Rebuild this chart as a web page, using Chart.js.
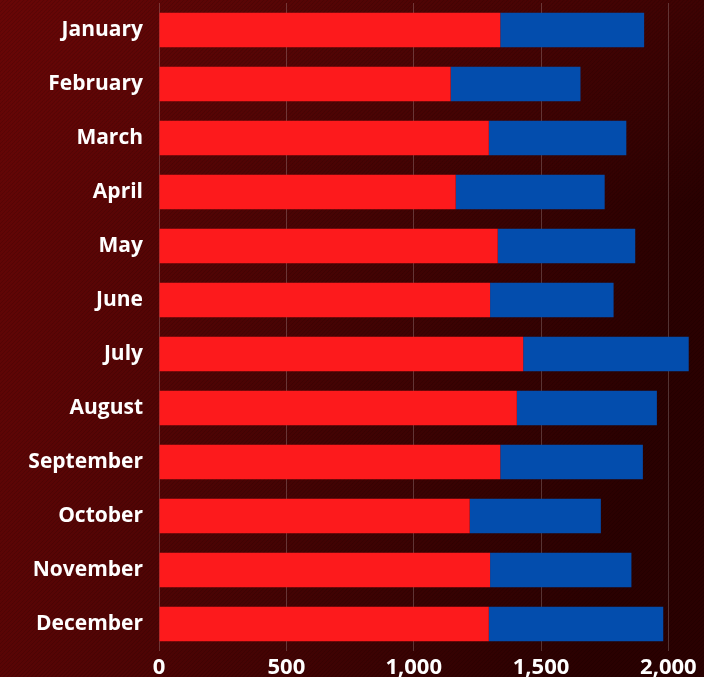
<!DOCTYPE html>
<html>
<head>
    <meta charset="UTF-8">
    <title>Monthly bars</title>
    <script src="https://cdn.jsdelivr.net/npm/chart.js@4.4.0/dist/chart.umd.min.js"></script>
</head>
<style>
    html, body { margin: 0; padding: 0; background: #3a0303; }
    #wrap { width: 704px; height: 677px; position: relative; }
</style>
<body>
<div id="wrap"><canvas id="wykres"></canvas></div>

<script>
    var months = ['January', 'February', 'March', 'April', 'May', 'June',
                  'July', 'August', 'September', 'October', 'November', 'December'];
    var redValues = [1340, 1145, 1295, 1165, 1330, 1300, 1430, 1405, 1340, 1220, 1300, 1295];
    var blueValues = [565, 510, 540, 585, 540, 485, 650, 550, 560, 515, 555, 685];
    var xTicks = [0, 500, 1000, 1500, 2000];

    // dark red backdrop with a faint diagonal hatch
    var backdrop = {
        id: 'backdrop',
        beforeDraw: function (chart) {
            var c = chart.ctx, w = chart.width, h = chart.height;
            c.save();
            var g = c.createLinearGradient(0, 0, w, h * 0.25);
            g.addColorStop(0, '#660606');
            g.addColorStop(0.5, '#480404');
            g.addColorStop(1, '#2a0101');
            c.fillStyle = g;
            c.fillRect(0, 0, w, h);
            var g2 = c.createLinearGradient(0, 0, 0, h);
            g2.addColorStop(0, 'rgba(110,8,8,0.25)');
            g2.addColorStop(0.3, 'rgba(110,8,8,0)');
            c.fillStyle = g2;
            c.fillRect(0, 0, w, h);
            c.strokeStyle = 'rgba(0,0,0,0.13)';
            c.lineWidth = 1;
            for (var i = -h; i < w; i += 4) {
                c.beginPath();
                c.moveTo(i, h);
                c.lineTo(i + h, 0);
                c.stroke();
            }
            c.restore();
        }
    };

    new Chart(document.getElementById('wykres'), {
        type: 'bar',
        data: {
            labels: months,
            datasets: [{
                data: redValues,
                backgroundColor: '#fd1a1c',
                borderWidth: 0
            }, {
                data: blueValues,
                backgroundColor: '#034dad',
                borderWidth: 0
            }]
        },
        options: {
            indexAxis: 'y',
            responsive: true,
            maintainAspectRatio: false,
            animation: false,
            layout: { padding: { top: 3, right: 0, bottom: 0, left: 0 } },
            plugins: { legend: { display: false }, tooltip: { enabled: false } },
            datasets: { bar: { categoryPercentage: 1, barPercentage: 0.64 } },
            scales: {
                x: {
                    stacked: true,
                    min: 0,
                    max: 2140,
                    afterBuildTicks: function (axis) {
                        axis.ticks = xTicks.map(function (v) { return { value: v }; });
                    },
                    afterFit: function (scale) {
                        scale.height = 26;
                        scale.paddingLeft = 0;
                        scale.paddingRight = 0;
                    },
                    grid: { color: 'rgba(255,255,255,0.2)', lineWidth: 1, drawTicks: false },
                    border: { display: false },
                    ticks: {
                        color: '#ffffff',
                        padding: 4,
                        font: { family: 'Open Sans', weight: 'bold', size: 22 },
                        callback: function (v) { return v.toLocaleString('en-US'); }
                    }
                },
                y: {
                    stacked: true,
                    afterFit: function (scale) {
                        scale.width = 159;
                        scale.paddingTop = 0;
                        scale.paddingBottom = 0;
                    },
                    grid: { display: false, drawTicks: false },
                    border: { display: false },
                    ticks: {
                        color: '#ffffff',
                        padding: 16,
                        font: { family: 'Open Sans', weight: 'bold', size: 21 }
                    }
                }
            }
        },
        plugins: [backdrop]
    });
</script>
</body>
</html>
